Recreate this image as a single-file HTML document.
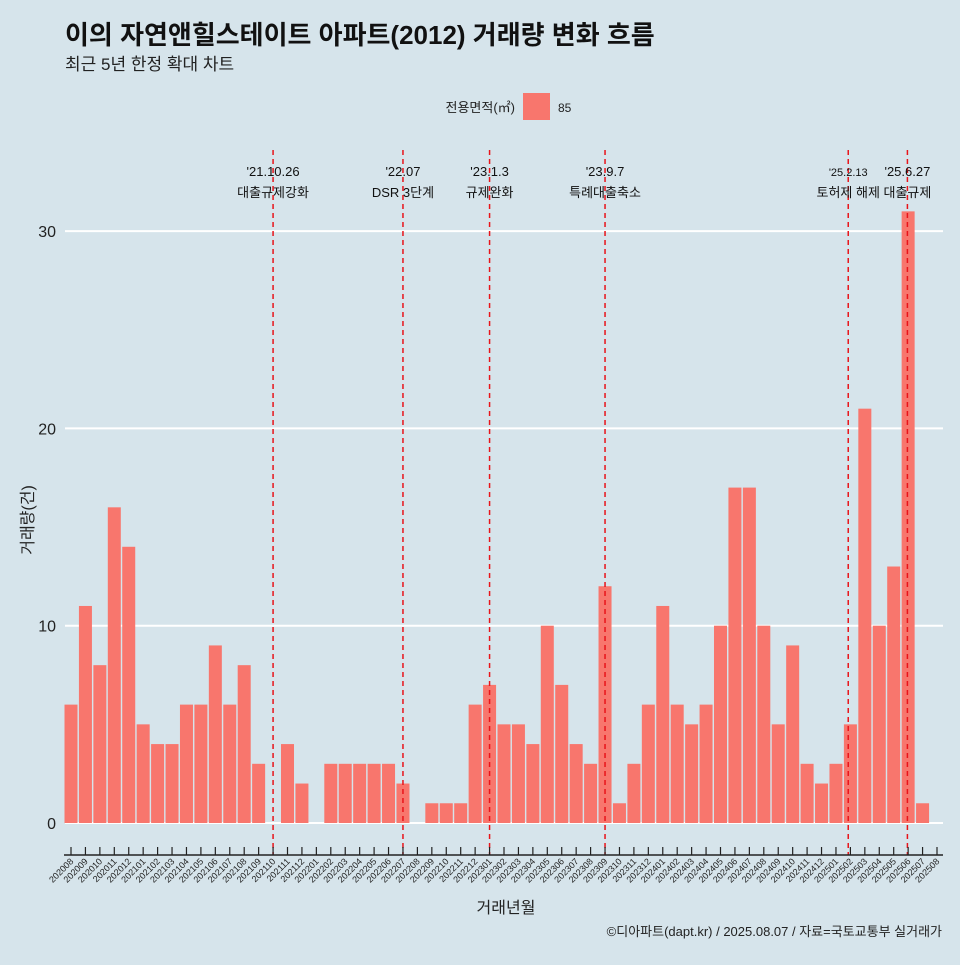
<!DOCTYPE html>
<html><head><meta charset="utf-8"><style>
body{margin:0;background:#d6e4eb;}
svg text{font-family:"Liberation Sans","Noto Sans CJK KR",sans-serif;}
</style></head><body>
<svg id="c" width="960" height="960" xmlns="http://www.w3.org/2000/svg">
<rect width="960" height="960" fill="#d6e4eb"/>
<text x="65" y="44" font-size="26" font-weight="bold" fill="#111">이의 자연앤힐스테이트 아파트(2012) 거래량 변화 흐름</text>
<text x="65" y="70" font-size="17" fill="#222">최근 5년 한정 확대 차트</text>
<g>
<text x="515" y="112" font-size="13" text-anchor="end" fill="#222">전용면적(㎡)</text>
<rect x="523" y="93" width="27" height="27" fill="#f8766d"/>
<text x="558" y="112" font-size="12" fill="#222">85</text>
</g>
<g id="grid"></g><g id="bars"></g><g id="vlines"></g><g id="xaxis"></g><g id="yaxis"></g>
<text x="506" y="913" font-size="16" text-anchor="middle" fill="#222">거래년월</text>
<text x="33" y="520" font-size="16" text-anchor="middle" fill="#222" transform="rotate(-90 33 520)">거래량(건)</text>
<text x="942" y="936" font-size="13" text-anchor="end" fill="#222">©디아파트(dapt.kr) / 2025.08.07 / 자료=국토교통부 실거래가</text>
</svg>
<script>
const categories=["202008","202009","202010","202011","202012","202101","202102","202103","202104","202105","202106","202107","202108","202109","202110","202111","202112","202201","202202","202203","202204","202205","202206","202207","202208","202209","202210","202211","202212","202301","202302","202303","202304","202305","202306","202307","202308","202309","202310","202311","202312","202401","202402","202403","202404","202405","202406","202407","202408","202409","202410","202411","202412","202501","202502","202503","202504","202505","202506","202507","202508"];
const counts=[6,11,8,16,14,5,4,4,6,6,9,6,8,3,0,4,2,0,3,3,3,3,3,2,0,1,1,1,6,7,5,5,4,10,7,4,3,12,1,3,6,11,6,5,6,10,17,17,10,5,9,3,2,3,5,21,10,13,31,1,0];
const yTicks=[0,10,20,30];
const eventPos=[14,23,29,37,53.85,57.95];
const eventDate=["'21.10.26","'22.07","'23.1.3","'23.9.7","'25.2.13","'25.6.27"];
const eventText=["대출규제강화","DSR 3단계","규제완화","특례대출축소","토허제 해제","대출규제"];
const NS="http://www.w3.org/2000/svg";
const x0=71,step=(937-71)/60;
const xs=i=>x0+i*step;
const ys=v=>823-v*19.73;
function mk(t,a,p){const e=document.createElementNS(NS,t);for(const k in a)e.setAttribute(k,a[k]);p.appendChild(e);return e;}
const grid=document.getElementById('grid'),bars=document.getElementById('bars'),vl=document.getElementById('vlines'),xa=document.getElementById('xaxis'),ya=document.getElementById('yaxis');
yTicks.forEach(v=>{
 const l=mk('line',{x1:65,x2:943,y1:ys(v),y2:ys(v),stroke:'#fff','stroke-width':2},grid);
 
 
 const t=mk('text',{x:56,y:ys(v)+6,'font-size':16,'text-anchor':'end',fill:'#222'},ya);
 t.textContent=v;
 
 
});
counts.forEach((v,i)=>{
 if(v<=0)return;
 const r=mk('rect',{x:xs(i)-6.5,y:ys(v),width:13,height:ys(0)-ys(v),fill:'#f8766d'},bars);
 
 
});
eventPos.forEach((p,i)=>{
 const x=xs(p);
 const l=mk('line',{x1:x,x2:x,y1:150,y2:855,stroke:'#e8141a','stroke-width':1.5,'stroke-dasharray':'5,4'},vl);
 
 
 const small=i==4;
 const t1=mk('text',{x:x,y:176,'font-size':small?11:13,'text-anchor':'middle',fill:'#111'},vl);
 t1.textContent=eventDate[i];
 
 
 const t2=mk('text',{x:x,y:197,'font-size':13,'text-anchor':'middle',fill:'#111'},vl);
 t2.textContent=eventText[i];
 
 
});
const ax=mk('line',{x1:64,x2:943,y1:855,y2:855,stroke:'#222','stroke-width':1.5},xa);


categories.forEach((c,i)=>{
 const x=xs(i);
 const tk=mk('line',{x1:x,x2:x,y1:847,y2:855,stroke:'#222','stroke-width':1.2},xa);
 
 
 const t=mk('text',{x:x+3,y:862,'font-size':9,'text-anchor':'end',fill:'#222',transform:`rotate(-45 ${x+3} 862)`},xa);
 t.textContent=c;
 
 
});
</script>
</body></html>
